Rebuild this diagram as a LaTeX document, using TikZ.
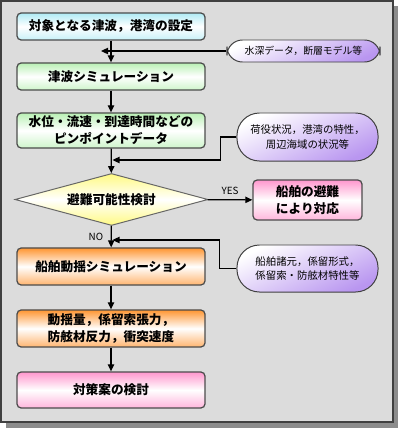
\documentclass[tikz,border=0pt]{standalone}
\usepackage{fontspec}
\setmainfont{Noto Sans CJK JP}
\usetikzlibrary{shapes.geometric,arrows.meta}

\definecolor{boxcyan}{RGB}{175,235,245}
\definecolor{boxgreen}{RGB}{185,240,180}
\definecolor{boxorange}{RGB}{255,150,50}
\definecolor{boxpink}{RGB}{255,150,205}
\definecolor{boxyellow}{RGB}{255,250,130}
\definecolor{notepurple}{RGB}{185,150,240}
\definecolor{framegray}{RGB}{220,220,220}

\begin{document}
\begin{tikzpicture}[x=0.025cm,y=-0.025cm,
    flow/.style={draw=black!70, line width=0.9pt, rounded corners=3pt, minimum width=4.7cm,
      align=center, font=\fontsize{9}{12}\selectfont\bfseries, inner sep=0pt,
      top color=#1, bottom color=#1!70!white, middle color=white},
    note/.style={draw=black!75, line width=0.7pt, rounded corners=11pt, align=center,
      font=\fontsize{7.4}{10.5}\selectfont, inner sep=0pt,
      top color=white, bottom color=notepurple, shading angle=25},
    link/.style={line width=0.9pt, -{Triangle[length=5pt,width=4.5pt]}}]
  \useasboundingbox (0,0) rectangle (400,429);
  \fill[black!45] (6,6) rectangle (398,428);
  \filldraw[fill=framegray, draw=black!75, line width=0.8pt] (1,1) rectangle (393,422);

  \node[flow=boxcyan, minimum height=0.675cm] (setting) at (111,26.5) {対象となる津波，港湾の設定};
  \node[flow=boxgreen, minimum height=0.675cm] (tsunami) at (111,76.5) {津波シミュレーション};
  \node[flow=boxgreen, minimum height=0.875cm] (point) at (111,130.5) {水位・流速・到達時間などの\\ピンポイントデータ};
  \node[diamond, aspect=3.7, draw=black!60, line width=0.7pt, inner sep=0pt, minimum width=4.825cm, minimum height=1.3cm,
    top color=boxyellow, bottom color=boxyellow, middle color=white,
    font=\fontsize{9}{12}\selectfont\bfseries] (check) at (111.5,199.5) {避難可能性検討};
  \node[flow=boxpink, minimum width=2.725cm, minimum height=1cm] (escape) at (307.5,200) {船舶の避難\\により対応};
  \node[flow=boxorange, minimum height=0.925cm] (motion) at (111,266.5) {船舶動揺シミュレーション};
  \node[flow=boxorange, minimum height=0.925cm] (result) at (111,328.5) {動揺量，係留索張力，\\防舷材反力，衝突速度};
  \node[flow=boxpink, minimum height=0.9cm] (plan) at (111,390) {対策案の検討};

  \node[note, minimum width=3.825cm, minimum height=0.55cm, font=\fontsize{7}{9}\selectfont] (depth) at (303.5,51) {水深データ，断層モデル等};
  \node[note, rounded corners=16pt, minimum width=3.525cm, minimum height=1.2cm] (harbor) at (307.5,137) {荷役状況，港湾の特性，\\周辺海域の状況等};
  \node[note, rounded corners=16pt, minimum width=3.525cm, minimum height=1.175cm] (ship) at (307.5,268.5) {船舶諸元，係留形式，\\係留索・防舷材特性等};

  \coordinate (in1) at (101,51);
  \coordinate (in2) at (112.5,160);
  \coordinate (in3) at (112.5,240);

  \draw[link] (setting) -- (tsunami);
  \draw[link] (tsunami) -- (point);
  \draw[link] (point) -- (check);
  \draw[link] (check) -- node[left=2pt, font=\fontsize{7}{8}\selectfont] {NO} (motion);
  \draw[link] (motion) -- (result);
  \draw[link] (result) -- (plan);
  \draw[link] (check) -- node[above=0pt, font=\fontsize{7}{8}\selectfont] {YES} (escape);

  \draw[link] (depth) -- (in1);
  \draw[link] (harbor.west) -- ++(-16,0) |- (in2);
  \draw[link] (ship.west) -- ++(-17,0) |- (in3);
\end{tikzpicture}
\end{document}
